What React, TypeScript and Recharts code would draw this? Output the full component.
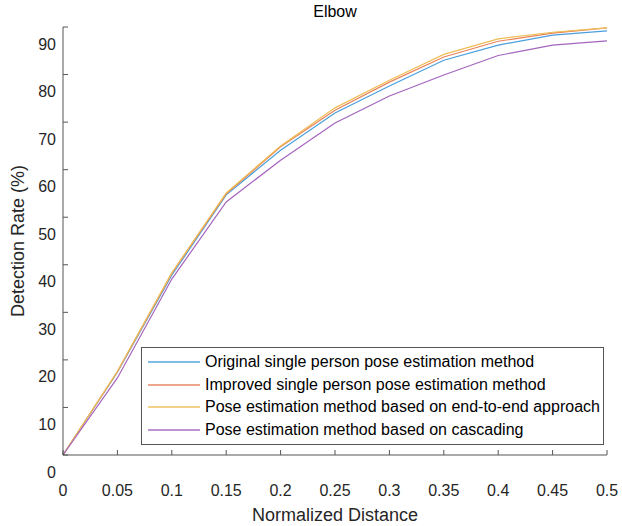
import React from 'react';
import { LineChart, Line, XAxis, YAxis } from 'recharts';

const xValues = [0, 0.05, 0.1, 0.15, 0.2, 0.25, 0.3, 0.35, 0.4, 0.45, 0.5];
const originalSingle = [3.6, 21.0, 41.4, 58.3, 67.7, 75.5, 81.2, 86.6, 89.8, 91.9, 92.8];
const improvedSingle = [3.6, 21.1, 41.8, 58.5, 68.4, 76.1, 82.0, 87.3, 90.6, 92.3, 93.4];
const endToEnd = [3.6, 21.2, 41.9, 58.7, 68.6, 76.6, 82.4, 87.85, 91.1, 92.5, 93.4];
const cascading = [3.6, 19.8, 40.6, 56.8, 65.6, 73.4, 79.1, 83.5, 87.6, 89.8, 90.7];

const seriesNames = [
  'Original single person pose estimation method',
  'Improved single person pose estimation method',
  'Pose estimation method based on end-to-end approach',
  'Pose estimation method based on cascading',
];
const seriesKeys = ['original', 'improved', 'endToEnd', 'cascading'];
const seriesColors = ['#4a9fdc', '#e8825a', '#efbd55', '#a465bd'];

const yTickLabels = [0, 10, 20, 30, 40, 50, 60, 70, 80, 90];
const Y_SHIFT = 3.6; // tick marks sit this far above the printed labels
const yTicks = yTickLabels.map((l) => l + Y_SHIFT);
const xTicks = xValues;

const data = xValues.map((x, i) => ({
  x,
  original: originalSingle[i],
  improved: improvedSingle[i],
  endToEnd: endToEnd[i],
  cascading: cascading[i],
}));

const FONT = '"Liberation Sans", Arial, sans-serif';
const TICK_COLOR = '#262626';

const LeftTick = (props: any) => {
  const { x, y, index } = props;
  return (
    <g>
      <line x1={x} y1={y} x2={x + 5} y2={y} stroke="#555" strokeWidth={1} />
      <text x={x - 7} y={y + 17} textAnchor="end" dominantBaseline="central" fontSize={16} fill={TICK_COLOR} fontFamily={FONT}>
        {yTickLabels[index]}
      </text>
    </g>
  );
};

const RightTick = (props: any) => {
  const { x, y } = props;
  return <line x1={x} y1={y} x2={x - 5} y2={y} stroke="#888" strokeWidth={1} />;
};

const BottomTick = (props: any) => {
  const { x, y, payload } = props;
  const v = Number(Number(payload.value).toFixed(2));
  return (
    <g>
      <line x1={x} y1={y} x2={x} y2={y - 5} stroke="#555" strokeWidth={1} />
      <text x={x} y={y + 35} textAnchor="middle" dominantBaseline="central" fontSize={16} fill={TICK_COLOR} fontFamily={FONT}>
        {String(v)}
      </text>
    </g>
  );
};

const TopTick = (props: any) => {
  const { x, y } = props;
  return <line x1={x} y1={y} x2={x} y2={y + 5} stroke="#888" strokeWidth={1} />;
};

const LegendBox = () => (
  <div
    style={{
      position: 'absolute',
      left: 141,
      top: 347,
      border: '1px solid #555',
      background: '#fff',
      width: 463,
      height: 98,
      boxSizing: 'border-box',
      paddingTop: 3,
      fontFamily: FONT,
      fontSize: 16,
      color: '#000',
      zIndex: 2,
    }}
  >
    {seriesNames.map((name, i) => (
      <div key={name} style={{ display: 'flex', alignItems: 'center', height: 22.5, whiteSpace: 'nowrap' }}>
        <div style={{ width: 52, height: 0, borderTop: `2px solid ${seriesColors[i]}`, marginLeft: 6, marginRight: 5, opacity: 0.7 }} />
        <span>{name}</span>
      </div>
    ))}
  </div>
);

export default function App() {
  return (
    <div style={{ position: 'relative', width: 622, height: 526 }}>
      <style>{'html, body { margin: 0; padding: 0; } #root { width: 622px; height: 526px; }'}</style>
      <LineChart width={622} height={526} data={data} margin={{ top: 27, right: 15, left: 0, bottom: 0 }}>
        <XAxis
          xAxisId="bottom"
          dataKey="x"
          type="number"
          domain={[0, 0.5]}
          ticks={xTicks}
          height={71}
          tickSize={0}
          tickMargin={0}
          tickLine={false}
          tick={<BottomTick />}
          axisLine={{ stroke: '#555' }}
          interval={0}
          label={{ value: 'Normalized Distance', position: 'insideBottom', offset: 5, style: { fontFamily: FONT, fontSize: 18, fill: '#262626' } }}
        />
        <XAxis
          xAxisId="top"
          orientation="top"
          dataKey="x"
          type="number"
          domain={[0, 0.5]}
          ticks={xTicks}
          height={0}
          tickSize={0}
          tickMargin={0}
          tickLine={false}
          tick={<TopTick />}
          axisLine={{ stroke: '#888' }}
          interval={0}
        />
        <YAxis
          yAxisId="left"
          type="number"
          domain={[Y_SHIFT, 90 + Y_SHIFT]}
          ticks={yTicks}
          width={63}
          tickSize={0}
          tickMargin={0}
          tickLine={false}
          tick={<LeftTick />}
          axisLine={{ stroke: '#555' }}
          interval={0}
          label={{ value: 'Detection Rate (%)', angle: -90, position: 'insideLeft', offset: 18, style: { textAnchor: 'middle', fontFamily: FONT, fontSize: 18, fill: '#262626' } }}
        />
        <YAxis
          yAxisId="right"
          orientation="right"
          type="number"
          domain={[Y_SHIFT, 90 + Y_SHIFT]}
          ticks={yTicks}
          width={0}
          tickSize={0}
          tickMargin={0}
          tickLine={false}
          tick={<RightTick />}
          axisLine={{ stroke: '#888' }}
          interval={0}
        />
        {seriesKeys.map((k, i) => (
          <Line
            key={k}
            xAxisId="bottom"
            yAxisId="left"
            type="linear"
            dataKey={k}
            name={seriesNames[i]}
            stroke={seriesColors[i]}
            strokeWidth={1.2}
            dot={false}
            isAnimationActive={false}
          />
        ))}
      </LineChart>
      <div
        style={{
          position: 'absolute',
          top: 2,
          left: 63,
          width: 544,
          textAlign: 'center',
          fontFamily: FONT,
          fontSize: 16,
          lineHeight: '19px',
          color: '#000',
          zIndex: 2,
        }}
      >
        Elbow
      </div>
      <LegendBox />
    </div>
  );
}
